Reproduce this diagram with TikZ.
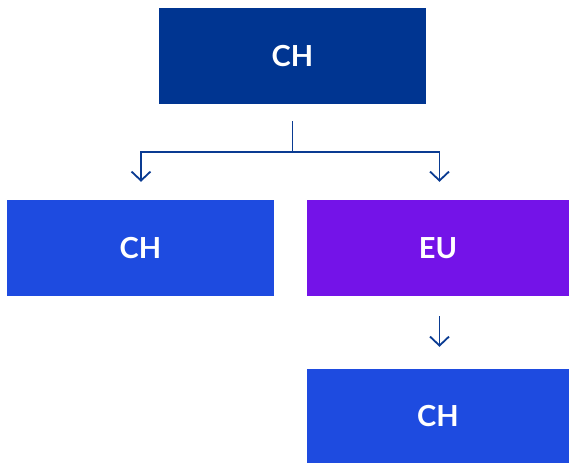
\documentclass[tikz,border=0pt]{standalone}
\usepackage{fontspec}
\setmainfont{Lato}
\usetikzlibrary{arrows.meta}
\definecolor{navy}{HTML}{003591}
\definecolor{bblue}{HTML}{1E4BE0}
\definecolor{purp}{HTML}{7413E8}
\definecolor{linec}{HTML}{0A3B92}
\begin{document}
\begin{tikzpicture}[x=1pt,y=1pt,
  boxn/.style={minimum height=96pt, inner sep=0pt, text=white, font=\fontsize{29}{32}\selectfont\bfseries},
  conn/.style={draw=linec, line width=1.8pt},
  arr/.style={conn, -{Straight Barb[length=9pt,width=19pt,line width=1.8pt]}}]
\useasboundingbox (0,0) rectangle (569,463);
\node[boxn, fill=navy, minimum width=267pt] (top) at (292.5,407) {CH};
\node[boxn, fill=bblue, minimum width=267pt] (left) at (140.5,215) {CH};
\node[boxn, fill=purp, minimum width=262pt] (eu) at (438,215) {EU};
\node[boxn, fill=bblue, minimum width=262pt, minimum height=94pt] (bot) at (438,47) {CH};
\draw[conn] ([yshift=-17pt]top.south) -- ++(0,-31) coordinate (j);
\draw[arr] (j) -| ([xshift=0.5pt,yshift=18pt]left.north);
\draw[arr] (j) -| ([xshift=1.5pt,yshift=18pt]eu.north);
\draw[arr] ([xshift=1.5pt,yshift=-20pt]eu.south) -- ([xshift=1.5pt,yshift=22pt]bot.north);
\end{tikzpicture}
\end{document}
